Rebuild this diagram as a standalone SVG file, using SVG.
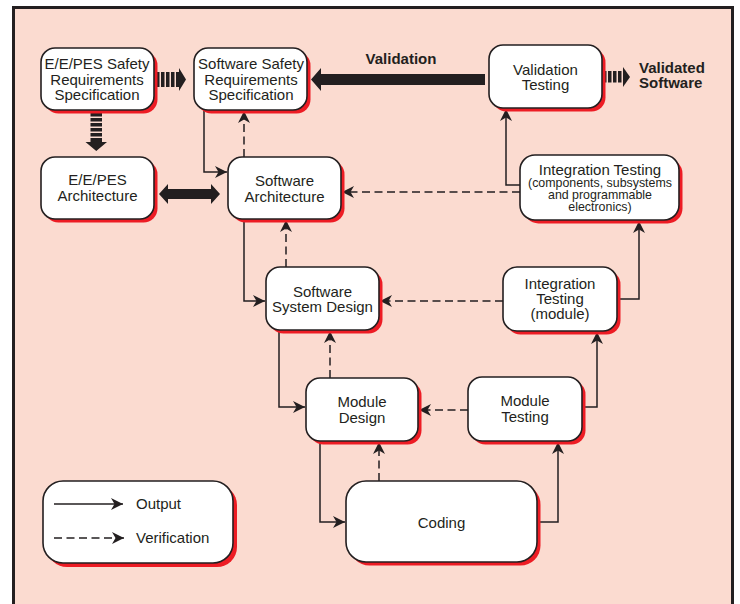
<svg xmlns="http://www.w3.org/2000/svg" width="740" height="604" viewBox="0 0 740 604">
<defs>
<style>
.bg{fill:#fbdbd0;stroke:#231f20;stroke-width:3}
.box{fill:#ffffff;stroke:#231f20;stroke-width:1.6}
.sh{fill:#ed1c24;stroke:none}
.t{font-family:"Liberation Sans",Arial,Helvetica,sans-serif;font-size:15px;fill:#231f20;text-anchor:middle}
.ts{font-family:"Liberation Sans",Arial,Helvetica,sans-serif;font-size:12.4px;fill:#231f20;text-anchor:middle}
.tb{font-family:"Liberation Sans",Arial,Helvetica,sans-serif;font-size:15px;font-weight:bold;fill:#231f20}
.tl{font-family:"Liberation Sans",Arial,Helvetica,sans-serif;font-size:15px;fill:#231f20}
.out{fill:none;stroke:#231f20;stroke-width:1.5;marker-end:url(#ah)}
.ver{fill:none;stroke:#231f20;stroke-width:1.5;stroke-dasharray:8 4.5;marker-end:url(#ah)}
.thick{fill:#231f20;stroke:none}
</style>
<marker id="ah" markerUnits="userSpaceOnUse" markerWidth="13" markerHeight="13" refX="12" refY="6" orient="auto">
<path d="M0,0 L12,6 L0,12 L3.5,6 z" fill="#231f20"/>
</marker>
</defs>
<rect x="0" y="0" width="740" height="604" fill="#ffffff"/>
<rect class="bg" x="13.5" y="7.5" width="719" height="610"/>

<g id="connectors">
<!-- thick arrows -->
<g class="thick">
<rect x="156" y="72" width="3.5" height="15"/>
<rect x="161" y="72" width="3.5" height="15"/>
<rect x="166" y="72" width="3.5" height="15"/>
<rect x="171" y="72" width="3.5" height="15"/>
<polygon points="176,72 179,72 179,68 186,79.5 179,91 179,87 176,87"/>
<rect x="90.5" y="113" width="11.5" height="3.5"/>
<rect x="90.5" y="118" width="11.5" height="3.5"/>
<rect x="90.5" y="123" width="11.5" height="3.5"/>
<rect x="90.5" y="128" width="11.5" height="3.5"/>
<rect x="90.5" y="133" width="11.5" height="3.5"/>
<polygon points="90.5,138 102,138 102,142 107,142 96.25,151 85.5,142 90.5,142"/>
<polygon points="159,194 168,184 168,189 211,189 211,184 220,194 211,204 211,199 168,199 168,204"/>
<polygon points="311,79.5 321,68 321,74 485,74 485,85 321,85 321,91"/>
<rect x="603" y="71" width="3.5" height="11.5"/>
<rect x="608" y="71" width="3.5" height="11.5"/>
<rect x="613" y="71" width="3.5" height="11.5"/>
<rect x="618" y="71" width="3.5" height="11.5"/>
<polygon points="623,67 630,77 623,87"/>
</g>
<!-- thin connectors -->
<path class="out" d="M204,110 V172 H227"/>
<path class="ver" d="M244,157 V111"/>
<path class="ver" d="M520,192 H342"/>
<path class="out" d="M520,185 H506 V109"/>
<path class="out" d="M244,219 V301 H265"/>
<path class="ver" d="M286,267 V220"/>
<path class="ver" d="M503,301 H380"/>
<path class="out" d="M617,299 H639 V221"/>
<path class="out" d="M279,330 V407 H305"/>
<path class="ver" d="M330,378 V331"/>
<path class="ver" d="M468,410 H419"/>
<path class="out" d="M582,407 H597 V332"/>
<path class="out" d="M320,441 V522 H345"/>
<path class="ver" d="M379,481 V442"/>
<path class="out" d="M537,522 H558 V442"/>
</g>

<g id="eepes-srs">
<rect class="sh" x="44.5" y="51.5" width="113" height="62" rx="14"/>
<rect class="box" x="41" y="48" width="113" height="62" rx="14"/>
<text class="t" x="97" y="69">E/E/PES Safety</text>
<text class="t" x="97" y="84.5">Requirements</text>
<text class="t" x="97" y="100">Specification</text>
</g>

<g id="sw-srs">
<rect class="sh" x="197.5" y="51.5" width="113" height="62" rx="14"/>
<rect class="box" x="194" y="48" width="113" height="62" rx="14"/>
<text class="t" x="251" y="69">Software Safety</text>
<text class="t" x="251" y="84.5">Requirements</text>
<text class="t" x="251" y="100">Specification</text>
</g>

<g id="eepes-arch">
<rect class="sh" x="44.5" y="160.5" width="113" height="62" rx="14"/>
<rect class="box" x="41" y="157" width="113" height="62" rx="14"/>
<text class="t" x="97.5" y="185">E/E/PES</text>
<text class="t" x="97.5" y="201">Architecture</text>
</g>

<g id="sw-arch">
<rect class="sh" x="231.5" y="160.5" width="113" height="62" rx="14"/>
<rect class="box" x="228" y="157" width="113" height="62" rx="14"/>
<text class="t" x="284.5" y="186">Software</text>
<text class="t" x="284.5" y="202">Architecture</text>
</g>

<g id="validation-testing">
<rect class="sh" x="492.5" y="48.5" width="113" height="63" rx="14"/>
<rect class="box" x="489" y="45" width="113" height="63" rx="14"/>
<text class="t" x="545.5" y="75">Validation</text>
<text class="t" x="545.5" y="90">Testing</text>
</g>

<g id="validation-label">
<text class="tb" x="401" y="64" text-anchor="middle">Validation</text>
</g>

<g id="validated-software">
<text class="tb" x="639" y="73">Validated</text>
<text class="tb" x="639" y="88">Software</text>
</g>

<g id="integration-testing-components">
<rect class="sh" x="523.5" y="158.5" width="159" height="65" rx="15"/>
<rect class="box" x="520" y="155" width="159" height="65" rx="15"/>
<text class="t" x="600" y="175">Integration Testing</text>
<text class="ts" x="600" y="187">(components, subsystems</text>
<text class="ts" x="600" y="199">and programmable</text>
<text class="ts" x="600" y="211">electronics)</text>
</g>

<g id="sw-system-design">
<rect class="sh" x="269.5" y="270.5" width="113" height="63" rx="14"/>
<rect class="box" x="266" y="267" width="113" height="63" rx="14"/>
<text class="t" x="322.5" y="297">Software</text>
<text class="t" x="322.5" y="312">System Design</text>
</g>

<g id="integration-testing-module">
<rect class="sh" x="506.5" y="270.5" width="114" height="64" rx="14"/>
<rect class="box" x="503" y="267" width="114" height="64" rx="14"/>
<text class="t" x="560" y="288.5">Integration</text>
<text class="t" x="560" y="304">Testing</text>
<text class="t" x="560" y="319">(module)</text>
</g>

<g id="module-design">
<rect class="sh" x="309.5" y="381.5" width="112" height="63" rx="14"/>
<rect class="box" x="306" y="378" width="112" height="63" rx="14"/>
<text class="t" x="362" y="407">Module</text>
<text class="t" x="362" y="423">Design</text>
</g>

<g id="module-testing">
<rect class="sh" x="471.5" y="380.5" width="114" height="64" rx="14"/>
<rect class="box" x="468" y="377" width="114" height="64" rx="14"/>
<text class="t" x="525" y="406">Module</text>
<text class="t" x="525" y="422">Testing</text>
</g>

<g id="coding">
<rect class="sh" x="349.5" y="484.5" width="191" height="81" rx="20"/>
<rect class="box" x="346" y="481" width="191" height="81" rx="20"/>
<text class="t" x="441.5" y="528">Coding</text>
</g>

<g id="legend">
<rect class="sh" x="47" y="485" width="190" height="82" rx="20"/>
<rect class="box" x="43" y="481" width="190" height="82" rx="20"/>
<path class="out" d="M54,504 H123"/>
<path class="ver" d="M54,538 H124"/>
<text class="tl" x="136" y="509">Output</text>
<text class="tl" x="136" y="543">Verification</text>
</g>
</svg>
